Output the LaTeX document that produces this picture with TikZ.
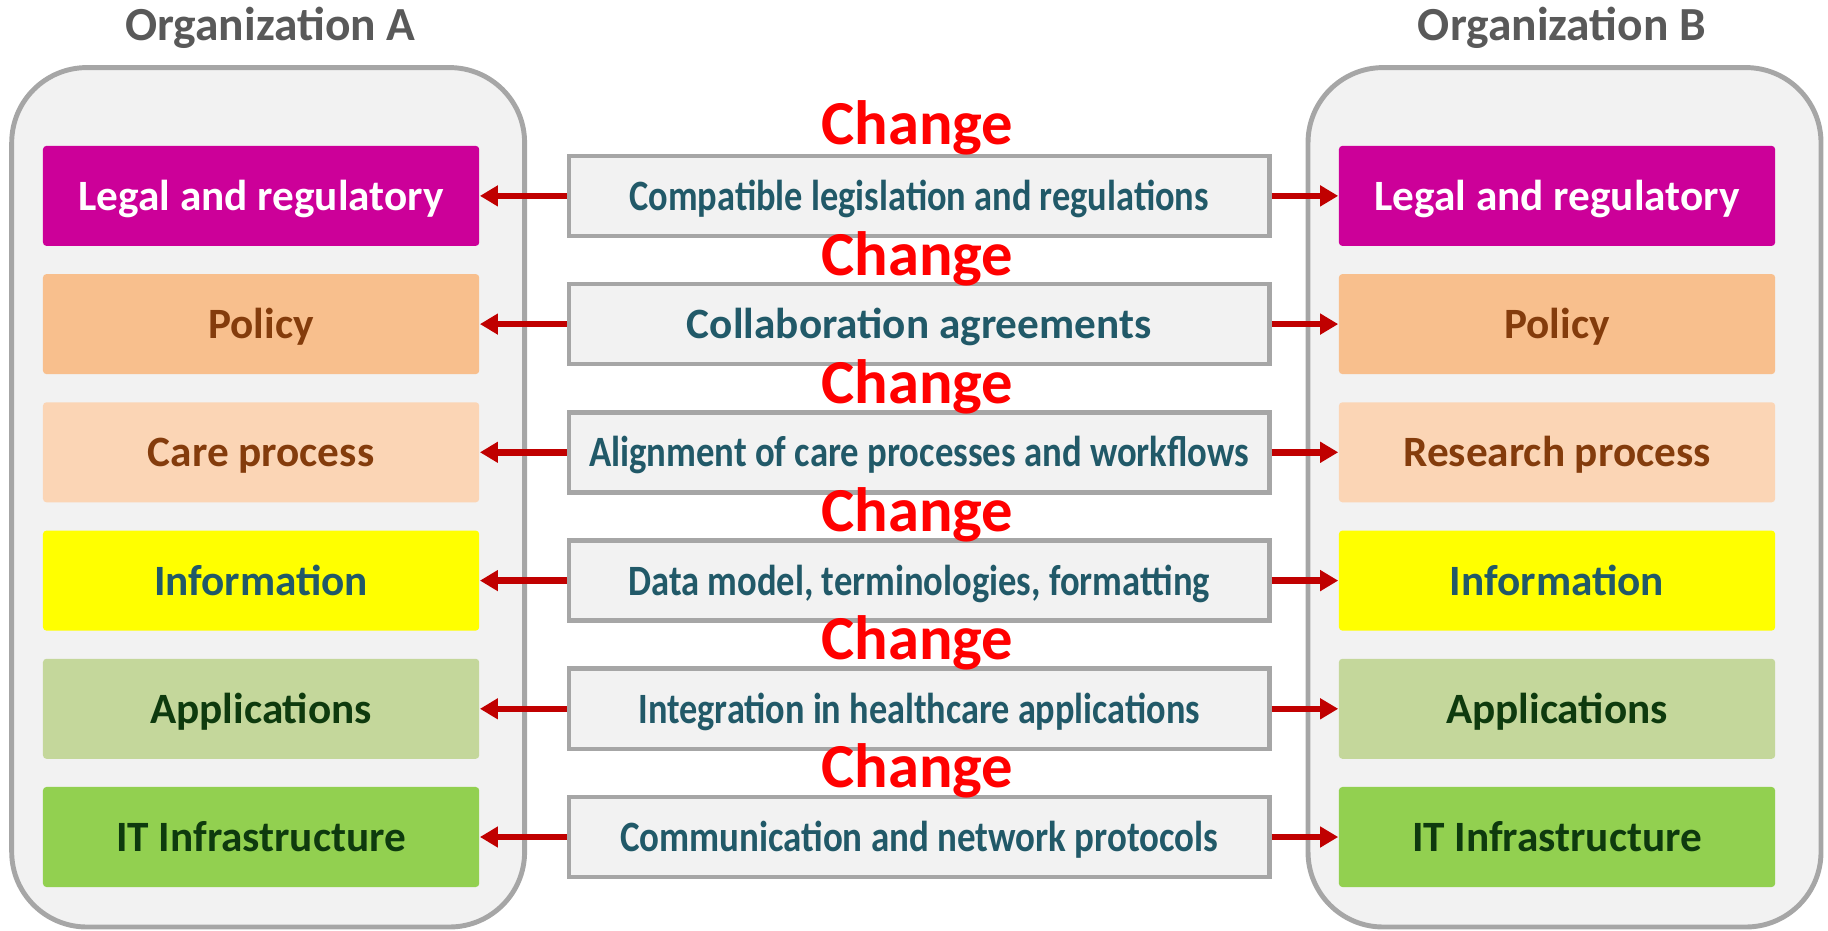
\documentclass[tikz,border=0pt]{standalone}
\usepackage{fontspec}
\setmainfont{Carlito}
\usepackage{graphicx}
\usepackage{tikz}
\usetikzlibrary{arrows.meta}
\usetikzlibrary{positioning}

\definecolor{framegray}{HTML}{A6A6A6}
\definecolor{panelgray}{HTML}{F2F2F2}
\definecolor{titlegray}{HTML}{595959}
\definecolor{arrowred}{HTML}{C00000}
\definecolor{linktext}{HTML}{215968}
\definecolor{legalfill}{HTML}{CC0099}
\definecolor{policyfill}{HTML}{F8BF8D}
\definecolor{carefill}{HTML}{FBD5B5}
\definecolor{infofill}{HTML}{FFFF00}
\definecolor{appfill}{HTML}{C4D79B}
\definecolor{infrafill}{HTML}{92D050}
\definecolor{browntext}{HTML}{843C0C}
\definecolor{greentext}{HTML}{0E3A0E}

\newcommand{\labelfont}{\bfseries\fontsize{12.3}{14}\selectfont}
\newcommand{\changefont}{\bfseries\fontsize{17.8}{20}\selectfont}
\newcommand{\titlefont}{\bfseries\fontsize{13.5}{16}\selectfont}
\newcommand{\squeeze}[2]{\resizebox{#1}{\height}{#2}}

\tikzset{>={Triangle[length=1.8mm,width=2.0mm]},
  org/.style={draw=framegray, line width=1.4pt, fill=panelgray, rounded corners=0.75cm},
  orgtitle/.style={text=titlegray, font=\titlefont},
  layer/.style={minimum width=4.36cm, minimum height=1.0cm, rounded corners=1pt,
    inner sep=0pt, text height=0.29cm, text depth=0pt, font=\labelfont},
  link/.style={draw=framegray, line width=1.3pt, fill=panelgray, minimum width=7.0cm,
    minimum height=0.8cm, inner sep=0pt, text height=0.29cm, text depth=0pt,
    text=linktext, font=\labelfont},
  change/.style={text=red, font=\changefont, inner sep=0pt},
  arr/.style={->, draw=arrowred, line width=1.85pt}}

\begin{document}
\begin{tikzpicture}[x=0.01cm, y=-0.01cm]
    \useasboundingbox (0,0) rectangle (1828,931);

    % the two organizations
    \draw [org] (11.7,67.6) rectangle (524.6,927);
    \draw [org] (1308,67.6) rectangle (1821,927);
    \node [orgtitle] (titleA) at (270.5,28) {Organization A};
    \node [orgtitle] (titleB) at (1562,28) {Organization B};

    % layers of organization A
    \node [layer, fill=legalfill, text=white] (legalA) at (261.1,195.9) {Legal and regulatory};
    \node [layer, fill=policyfill, text=browntext] (policyA) at (261.1,324.1) {Policy};
    \node [layer, fill=carefill, text=browntext] (processA) at (261.1,452.3) {Care process};
    \node [layer, fill=infofill, text=linktext] (infoA) at (261.1,580.6) {Information};
    \node [layer, fill=appfill, text=greentext] (appA) at (261.1,708.8) {Applications};
    \node [layer, fill=infrafill, text=greentext] (infraA) at (261.1,837.0) {IT Infrastructure};

    % layers of organization B
    \node [layer, fill=legalfill, text=white] (legalB) at (1557,195.9) {Legal and regulatory};
    \node [layer, fill=policyfill, text=browntext] (policyB) at (1557,324.1) {Policy};
    \node [layer, fill=carefill, text=browntext] (processB) at (1557,452.3) {Research process};
    \node [layer, fill=infofill, text=linktext] (infoB) at (1557,580.6) {Information};
    \node [layer, fill=appfill, text=greentext] (appB) at (1557,708.8) {Applications};
    \node [layer, fill=infrafill, text=greentext] (infraB) at (1557,837.0) {IT Infrastructure};

    % interoperability agreements
    \node [link] (legal) at (919.2,195.9) {\squeeze{5.79cm}{Compatible legislation and regulations}};
    \node [link] (policy) at (919.2,324.1) {Collaboration agreements};
    \node [link] (process) at (919.2,452.3) {\squeeze{6.60cm}{Alignment of care processes and workflows}};
    \node [link] (info) at (919.2,580.6) {\squeeze{5.81cm}{Data model, terminologies, formatting}};
    \node [link] (app) at (919.2,708.8) {\squeeze{5.61cm}{Integration in healthcare applications}};
    \node [link] (infra) at (919.2,837.0) {\squeeze{5.98cm}{Communication and network protocols}};

    \draw [arr] (legal.west) -- (legalA.east);
    \draw [arr] (legal.east) -- (legalB.west);
    \draw [arr] (policy.west) -- (policyA.east);
    \draw [arr] (policy.east) -- (policyB.west);
    \draw [arr] (process.west) -- (processA.east);
    \draw [arr] (process.east) -- (processB.west);
    \draw [arr] (info.west) -- (infoA.east);
    \draw [arr] (info.east) -- (infoB.west);
    \draw [arr] (app.west) -- (appA.east);
    \draw [arr] (app.east) -- (appB.west);
    \draw [arr] (infra.west) -- (infraA.east);
    \draw [arr] (infra.east) -- (infraB.west);

    \node [change] (change1) at (917.5,128) {Change};
    \node [change] (change2) at (917.5,259) {Change};
    \node [change] (change3) at (917.5,387) {Change};
    \node [change] (change4) at (917.5,515) {Change};
    \node [change] (change5) at (917.5,643) {Change};
    \node [change] (change6) at (917.5,771) {Change};

\end{tikzpicture}
\end{document}
